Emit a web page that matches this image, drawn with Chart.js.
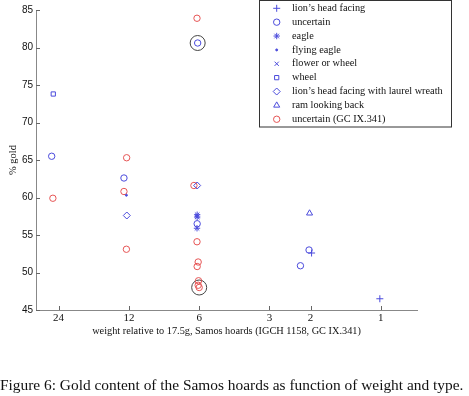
<!DOCTYPE html>
<html>
<head>
<meta charset="utf-8">
<script src="https://cdn.jsdelivr.net/npm/chart.js@4"></script>
<style>
  html, body { margin: 0; padding: 0; background: #fff; }
  #wrap { position: relative; width: 469px; height: 396px; }
  #caption {
    position: absolute; left: 0; top: 376px; width: 469px;
    font-family: "Liberation Serif", serif; font-size: 15.4px; color: #111;
    white-space: nowrap;
  }
</style>
</head>
<body>
<div id="wrap">
  <canvas id="grafico" width="469" height="396"></canvas>
  <div id="caption">Figure 6: Gold content of the Samos hoards as function of weight and type.</div>
</div>
<script>
// eixos
const xTicks = [24, 12, 6, 3, 2, 1];
const yTicks = [45, 50, 55, 60, 65, 70, 75, 80, 85];

// séries (peso relativo a 17.5g, % ouro)
const lionW = [1.98, 1.01];
const lionGold = [52.6, 46.5];
const uncertainW = [6.09, 25.7, 12.6, 6.12, 2.03, 2.21];
const uncertainGold = [80.6, 65.5, 62.6, 56.5, 53.0, 50.9];
const eagleW = [6.12, 6.12, 6.13];
const eagleGold = [57.7, 57.4, 55.9];
const flyingW = [12.3];
const flyingGold = [60.3];
const flowerW = [6.1];
const flowerGold = [57.5];
const wheelW = [25.3];
const wheelGold = [73.8];
const laurelW = [12.25, 6.12];
const laurelGold = [57.6, 61.6];
const ramW = [2.02];
const ramGold = [57.9];
const gcW = [6.13, 25.4, 12.27, 12.6, 12.3, 6.32, 6.13, 6.06, 6.12, 6.04, 6.06, 6.0];
const gcGold = [83.9, 59.9, 65.3, 60.8, 53.1, 61.6, 54.1, 51.4, 50.8, 48.9, 48.3, 48.0];
const destaqueW = [6.09, 6.0];
const destaqueGold = [80.6, 48.0];

const azul = "#4b4bdc";
const vermelho = "#e65555";

function pts(ws, gs) {
  return ws.map((w, i) => ({ x: w, y: gs[i] }));
}

function serie(label, ws, gs, style, cor, raio, preenche) {
  return {
    label: label,
    data: pts(ws, gs),
    pointStyle: style,
    pointRadius: raio,
    pointHoverRadius: raio,
    borderColor: cor,
    backgroundColor: preenche ? cor : "rgba(0,0,0,0)",
    pointBorderWidth: 1,
    showLine: false
  };
}

const datasets = [
  serie("lion\u2019s head facing", lionW, lionGold, "cross", azul, 3.5),
  serie("uncertain", uncertainW, uncertainGold, "circle", azul, 3.2),
  serie("eagle", eagleW, eagleGold, "star", azul, 3.2),
  serie("flying eagle", flyingW, flyingGold, "circle", azul, 1, true),
  serie("flower or wheel", flowerW, flowerGold, "crossRot", azul, 3),
  serie("wheel", wheelW, wheelGold, "rect", azul, 3),
  serie("lion\u2019s head facing with laurel wreath", laurelW, laurelGold, "rectRot", azul, 3.5),
  serie("ram looking back", ramW, ramGold, "triangle", azul, 3.5),
  serie("uncertain (GC IX.341)", gcW, gcGold, "circle", vermelho, 3.2)
];
const destaque = serie("", destaqueW, destaqueGold, "circle", "#444", 7.5);

// legenda com caixa, dentro do gráfico
const legendaBox = {
  id: "legendaBox",
  afterDraw(chart) {
    const ctx = chart.ctx;
    ctx.save();
    ctx.fillStyle = "#fff";
    ctx.fillRect(259.5, 0.5, 192, 126.5);
    ctx.strokeStyle = "#333";
    ctx.lineWidth = 1;
    ctx.strokeRect(259.5, 0.5, 192, 126.5);
    ctx.font = "10.3px 'Liberation Serif'";
    ctx.textBaseline = "middle";
    datasets.forEach((ds, i) => {
      const y = 8.3 + i * 13.87;
      ctx.strokeStyle = ds.borderColor;
      ctx.fillStyle = ds.backgroundColor;
      ctx.lineWidth = 1;
      Chart.helpers.drawPoint(ctx, {
        pointStyle: ds.pointStyle, radius: ds.pointRadius, borderWidth: 1, rotation: 0
      }, 276.7, y);
      ctx.fillStyle = "#111";
      ctx.fillText(ds.label, 292, y);
    });
    ctx.restore();
  }
};

// marcas de escala para dentro
const ticksDentro = {
  id: "ticksDentro",
  afterDraw(chart) {
    const ctx = chart.ctx;
    const x = chart.scales.x, y = chart.scales.y;
    const a = chart.chartArea;
    ctx.save();
    ctx.strokeStyle = "#666";
    ctx.lineWidth = 1;
    ctx.beginPath();
    xTicks.forEach(t => {
      const px = Math.round(x.getPixelForValue(t)) + 0.5;
      ctx.moveTo(px, a.bottom); ctx.lineTo(px, a.bottom - 4);
    });
    yTicks.forEach(t => {
      const py = Math.round(y.getPixelForValue(t)) + 0.5;
      ctx.moveTo(a.left, py); ctx.lineTo(a.left + 4, py);
    });
    ctx.stroke();
    ctx.restore();
  }
};

new Chart(document.getElementById("grafico"), {
  type: "scatter",
  data: { datasets: datasets.concat([destaque]) },
  options: {
    responsive: false,
    animation: false,
    layout: { padding: { left: 0, top: 10, right: 52, bottom: 59 } },
    plugins: { legend: { display: false }, tooltip: { enabled: false } },
    scales: {
      x: {
        type: "logarithmic",
        reverse: true,
        min: 0.737,
        max: 30,
        afterBuildTicks: s => { s.ticks = xTicks.map(v => ({ value: v })); },
        afterFit: s => { s.height = 27; },
        ticks: {
          padding: 2,
          color: "#111",
          font: { family: "Liberation Serif", size: 11 },
          callback: v => String(v)
        },
        grid: { drawOnChartArea: false, drawTicks: false },
        border: { color: "#888", width: 1 },
        title: {
          display: true,
          text: "weight relative to 17.5g, Samos hoards (IGCH 1158, GC IX.341)",
          color: "#111",
          font: { family: "Liberation Serif", size: 10.3 },
          padding: { top: 0, bottom: 0 }
        }
      },
      y: {
        min: 45,
        max: 85,
        afterBuildTicks: s => { s.ticks = yTicks.map(v => ({ value: v })); },
        afterFit: s => { s.width = 36; },
        ticks: {
          padding: 3,
          color: "#111",
          font: { family: "Liberation Sans", size: 10 }
        },
        grid: { drawOnChartArea: false, drawTicks: false },
        border: { color: "#888", width: 1 },
        title: {
          display: true,
          text: "% gold",
          color: "#111",
          font: { family: "Liberation Serif", size: 10.5 },
          padding: { top: 7, bottom: 0 }
        }
      }
    }
  },
  plugins: [ticksDentro, legendaBox]
});
</script>
</body>
</html>
